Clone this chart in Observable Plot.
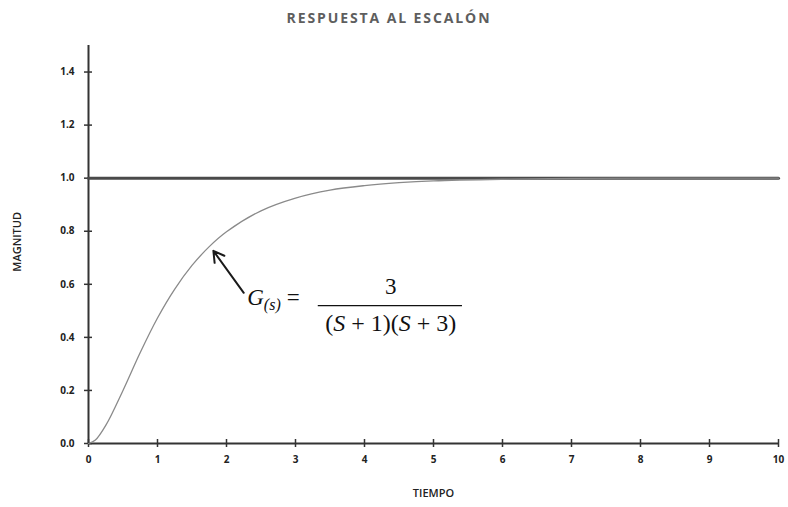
<!DOCTYPE html>
<html>
<head>
<meta charset="utf-8">
<script src="https://cdn.jsdelivr.net/npm/d3@7"></script>
<script src="https://cdn.jsdelivr.net/npm/@observablehq/plot@0.6"></script>
<style>
  body { margin: 0; background: #fff; }
  #title {
    width: 778px; height: 34px; box-sizing: border-box; padding-top: 8px; line-height: 20px; text-align: center;
    font: 700 14px "Open Sans", sans-serif; letter-spacing: 1.9px; color: #5e5e5e;
  }
  #chart svg { display: block; }
</style>
</head>
<body>
<div id="title">RESPUESTA AL ESCALÓN</div>
<div id="chart"></div>
<script>
// Step response samples (time, magnitude)
const tiempo   = [0, 0.1, 0.25, 0.5, 0.75, 1.0, 1.25, 1.5, 1.75, 2.0, 2.5, 3.0, 3.5, 4.0, 4.5, 5.0, 6.0, 7.0, 8.0, 9.0, 10.0];
const magnitud = [0, 0.013, 0.068, 0.20, 0.343, 0.473, 0.582, 0.671, 0.742, 0.798, 0.877, 0.925, 0.955, 0.972, 0.983, 0.990, 0.996, 0.999, 1.0, 1.0, 1.0];

// Unit step input
const escalonT = [0, 10];
const escalonV = [1, 1];

// Axis ticks
const xTicks = [0, 1, 2, 3, 4, 5, 6, 7, 8, 9, 10];
const yTicks = [0, 0.2, 0.4, 0.6, 0.8, 1.0, 1.2, 1.4];

// Transfer function annotation (data coordinates)
const flecha = [{x1: 2.25, y1: 0.568, x2: 1.81, y2: 0.726}];
const gLabel = [{x: 2.30, y: 0.55}];
const numerador = [{x: 4.38, y: 0.59, text: "3"}];
const denominador = [{x: 4.38, y: 0.452, text: "(S + 1)(S + 3)"}];
const barra = [{x1: 3.33, x2: 5.42, y: 0.52}];

// Axis title positions
const tituloY = [{x: 0, y: 0.76, text: "MAGNITUD"}];

const respuesta = tiempo.map((t, i) => ({t, v: magnitud[i]}));
const escalon = escalonT.map((t, i) => ({t, v: escalonV[i]}));

const serif = "'Liberation Serif', 'DejaVu Serif', serif";
const sans = "'Open Sans', sans-serif";

const chart = Plot.plot({
  width: 788,
  height: 473,
  marginTop: 11,
  marginBottom: 64,
  marginLeft: 88,
  marginRight: 10,
  style: {fontFamily: sans, color: "#222", background: "#fff"},
  x: {domain: [0, 10], label: null},
  y: {domain: [0, 1.5], label: null},
  marks: [
    // Axis lines
    Plot.ruleY([0], {x1: 0, x2: 10, stroke: "#333", strokeWidth: 2}),
    Plot.ruleX([0], {y1: 0, y2: 1.5, stroke: "#333", strokeWidth: 2}),
    // Tick marks crossing the axes
    Plot.ruleX(xTicks, {x: d => d, y1: 0, y2: 0, insetTop: -4, insetBottom: -4, stroke: "#333", strokeWidth: 1.5}),
    Plot.ruleY(yTicks, {y: d => d, x1: 0, x2: 0, insetLeft: -4, insetRight: -4, stroke: "#333", strokeWidth: 1.5}),
    // Tick labels
    Plot.axisX({ticks: xTicks, tickSize: 0, tickPadding: 12, fontSize: 10, fontWeight: "bold",
      tickFormat: d3.format("d"), label: null}),
    Plot.axisY({ticks: yTicks, tickSize: 0, tickPadding: 14, fontSize: 10, fontWeight: "bold",
      tickFormat: d3.format(".1f"), label: null}),
    // Axis titles
    Plot.text(["TIEMPO"], {frameAnchor: "bottom", dy: 53, text: d => d, fontFamily: sans,
      fontSize: 11, fontWeight: 600, fill: "#222", letterSpacing: -0.3}),
    Plot.text(tituloY, {x: "x", y: "y", dx: -71, rotate: -90, text: "text", fontFamily: sans,
      fontSize: 11, fontWeight: 600, fill: "#222", letterSpacing: -0.3}),
    // Step input
    Plot.line(escalon, {x: "t", y: "v", stroke: "#4a4a4a", strokeWidth: 3}),
    // System response
    Plot.line(respuesta, {x: "t", y: "v", stroke: "#8a8a8a", strokeWidth: 1.3, curve: "catmull-rom"}),
    // Annotation
    Plot.arrow(flecha, {x1: "x1", y1: "y1", x2: "x2", y2: "y2", stroke: "#1a1a1a", strokeWidth: 2, headLength: 9, bend: 0}),
    Plot.text(gLabel, {x: "x", y: "y", text: () => "G", className: "g-label", textAnchor: "start",
      fontFamily: serif, fontSize: 23, fill: "#111"}),
    Plot.text(numerador, {x: "x", y: "y", text: "text", fontFamily: serif, fontSize: 23, fill: "#111"}),
    Plot.text(denominador, {x: "x", y: "y", text: "text", className: "denom", fontFamily: serif, fontSize: 24, fill: "#111"}),
    Plot.ruleY(barra, {x1: "x1", x2: "x2", y: "y", stroke: "#111", strokeWidth: 1.2})
  ]
});

// Typeset the math pieces: italic variables and the (s) subscript
d3.select(chart).selectAll(".g-label text").each(function() {
  const t = d3.select(this);
  t.text(null);
  t.append("tspan").attr("font-style", "italic").text("G");
  t.append("tspan").attr("font-style", "italic").attr("font-size", 16).attr("dy", 5).text("(s)");
  t.append("tspan").attr("dy", -5).attr("dx", 6).text("=");
});
d3.select(chart).selectAll(".denom text").each(function() {
  const t = d3.select(this);
  t.text(null);
  t.append("tspan").text("(");
  t.append("tspan").attr("font-style", "italic").text("S");
  t.append("tspan").text(" + 1)(");
  t.append("tspan").attr("font-style", "italic").text("S");
  t.append("tspan").text(" + 3)");
});

document.getElementById("chart").append(chart);
</script>
</body>
</html>
